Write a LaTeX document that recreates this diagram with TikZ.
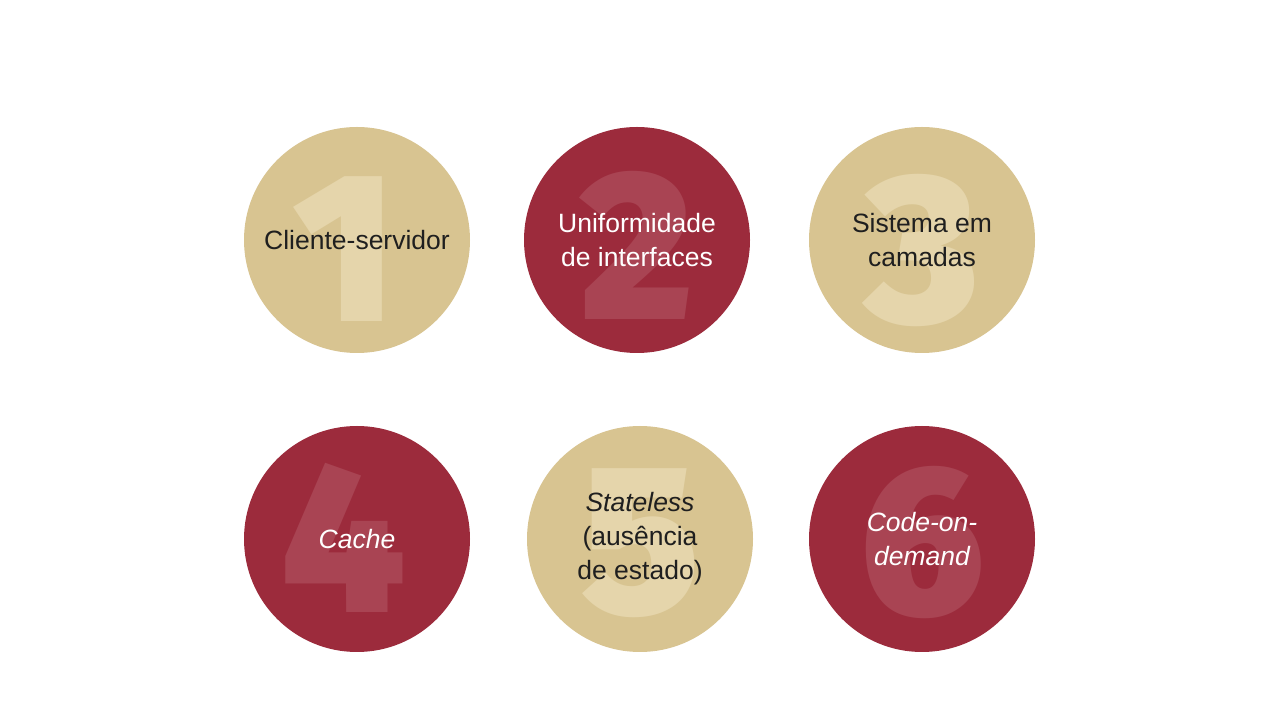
\documentclass[tikz,border=0pt]{standalone}
\usepackage{fontspec}
\setmainfont{Liberation Sans}
\newfontfamily\digitfont{Fira Sans Black}
\definecolor{tanc}{HTML}{D8C491}
\definecolor{tandig}{HTML}{E5D5AB}
\definecolor{redc}{HTML}{9C2B3C}
\definecolor{reddig}{HTML}{A94453}
\definecolor{darktext}{HTML}{1F1F1F}
\begin{document}
\begin{tikzpicture}[x=1pt,y=1pt,
  tanball/.style={circle,fill=tanc,minimum size=226pt,inner sep=0pt},
  redball/.style={circle,fill=redc,minimum size=226pt,inner sep=0pt},
  bigdigit/.style={inner sep=0pt,anchor=base,font=\digitfont\fontsize{213}{213}\selectfont},
  lbl/.style={align=center,font=\fontsize{26.5}{34}\selectfont}
]
\useasboundingbox (0,0) rectangle (1280,720);
\fill[white] (0,0) rectangle (1280,720);
% row 1
\node[tanball] (c1) at (357,480) {};
\node[redball] (c2) at (637,480) {};
\node[tanball] (c3) at (922,480) {};
% row 2
\node[redball] (c4) at (357,181) {};
\node[tanball] (c5) at (640,181) {};
\node[redball] (c6) at (922,181) {};
% digits
\node[bigdigit,text=tandig] (d1) at (345,398) {1};
\node[bigdigit,text=reddig] (d2) at (637,400) {2};
\node[bigdigit,text=tandig] (d3) at (922,397) {3};
\node[bigdigit,text=reddig] (d4) at (344,107) {4};
\node[bigdigit,text=tandig] (d5) at (641,106) {5};
\node[bigdigit,text=reddig] (d6) at (922,105) {6};
% labels
\node[lbl,text=darktext] (t1) at (c1) {Cliente-servidor};
\node[lbl,text=white] (t2) at (c2) {Uniformidade\\de interfaces};
\node[lbl,text=darktext] (t3) at (c3) {Sistema em\\camadas};
\node[lbl,text=white] (t4) at (c4) {\itshape Cache};
\node[lbl,text=darktext] (t5) at (c5) {\itshape Stateless\\(ausência\\de estado)};
\node[lbl,text=white] (t6) at (c6) {\itshape Code-on-\\\itshape demand};
\end{tikzpicture}
\end{document}
